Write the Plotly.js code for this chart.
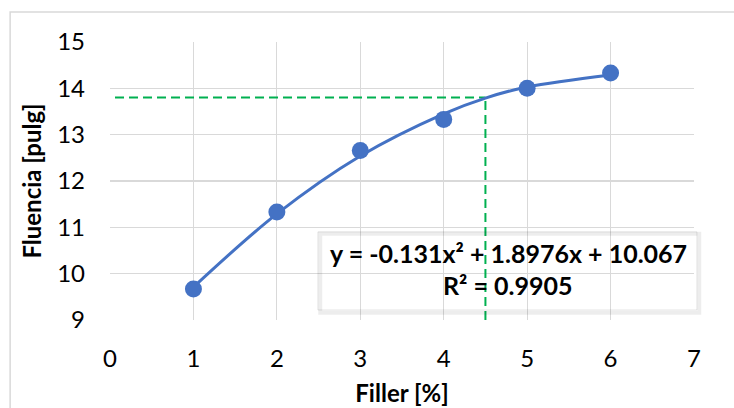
<!DOCTYPE html>
<html>
<head>
<meta charset="utf-8">
<script src="https://cdn.plot.ly/plotly-3.0.1.min.js"></script>
<style>
html,body{margin:0;padding:0;background:#fff;}
#chart{width:734px;height:408px;}
</style>
</head>
<body>
<div id="chart"></div>
<script>
// Measured data points
const fillerPct = [1, 2, 3, 4, 5, 6];
const fluencia = [9.67, 11.33, 12.66, 13.33, 14.0, 14.33];
// Trendline
const trendX = [1, 2, 3, 4, 4.5, 5, 6];
const trendY = [9.71, 11.29, 12.54, 13.45, 13.79, 14.03, 14.29];
// Dashed guide lines (design point)
const guideX = 4.5;
const guideY = 13.8;
const guideXStart = 0.06;
const yMin = 9, yMax = 15, xMin = 0, xMax = 7;
const xTickVals = [0, 1, 2, 3, 4, 5, 6, 7];
const yTickVals = [9, 10, 11, 12, 13, 14, 15];
const eqLine1 = "y = -0.131x² + 1.8976x + 10.067";
const eqLine2 = "R² = 0.9905";

const FONT = "Lato, 'Open Sans', sans-serif";
const green = "#00B050";
const blue = "#4472C4";

const traces = [
  {x: [guideXStart, guideX], y: [guideY, guideY], mode: "lines", type: "scatter",
   line: {color: green, width: 2, dash: "9px,5px"}, hoverinfo: "skip"},
  {x: [guideX, guideX], y: [yMin, guideY], mode: "lines", type: "scatter",
   line: {color: green, width: 2, dash: "9px,5px"}, hoverinfo: "skip"},
  {x: trendX, y: trendY, mode: "lines", type: "scatter",
   line: {color: blue, width: 3, shape: "spline", smoothing: 1}},
  {x: fillerPct, y: fluencia, mode: "markers", type: "scatter",
   marker: {color: blue, size: 17, line: {width: 0}}}
];

const layout = {
  width: 734, height: 408,
  margin: {l: 110, r: 40, t: 42, b: 88},
  paper_bgcolor: "#fff", plot_bgcolor: "#fff",
  showlegend: false,
  font: {family: FONT, color: "#000"},
  xaxis: {
    range: [xMin, xMax], tickvals: xTickVals, ticktext: xTickVals.map(String),
    showgrid: true, gridcolor: "#d9d9d9", gridwidth: 1.2,
    zeroline: false, showline: false, ticks: "",
    tickfont: {family: FONT, size: 24, color: "#000"},
    ticklabelstandoff: 22,
    title: {text: "<b>Filler [%]</b>", font: {family: FONT, size: 24, color: "#000"}, standoff: 14}
  },
  yaxis: {
    range: [yMin, yMax], tickvals: yTickVals, ticktext: yTickVals.map(String),
    showgrid: true, gridcolor: "#d9d9d9", gridwidth: 1.2,
    zeroline: false, showline: false, ticks: "",
    tickfont: {family: FONT, size: 24, color: "#000"},
    ticklabelstandoff: 24,
    title: {text: "<b>Fluencia [pulg]</b>", font: {family: FONT, size: 24, color: "#000"}, standoff: 8}
  },
  shapes: [
    // outer chart border
    {type: "rect", xref: "paper", yref: "paper", x0: -0.171, x1: 1.2, y0: -0.5, y1: 1.108,
     line: {color: "#d9d9d9", width: 1.5}, layer: "below"},
    // equation box shadow
    {type: "rect", xref: "paper", yref: "paper", x0: 0.360, x1: 1.009, y0: 0.026, y1: 0.31,
     line: {color: "rgba(0,0,0,0.07)", width: 4}},
    // equation box
    {type: "rect", xref: "paper", yref: "paper", x0: 0.356, x1: 1.005, y0: 0.036, y1: 0.317,
     line: {color: "rgba(0,0,0,0.10)", width: 1}}
  ],
  annotations: [
    {xref: "paper", yref: "paper", x: 0.682, y: 0.24, text: "<b>" + eqLine1 + "</b>",
     showarrow: false, xanchor: "center", yanchor: "middle",
     font: {family: FONT, size: 25, color: "#000"}},
    {xref: "paper", yref: "paper", x: 0.682, y: 0.125, text: "<b>" + eqLine2 + "</b>",
     showarrow: false, xanchor: "center", yanchor: "middle",
     font: {family: FONT, size: 25, color: "#000"}}
  ]
};

Plotly.newPlot("chart", traces, layout, {displayModeBar: false, staticPlot: true});
</script>
</body>
</html>
